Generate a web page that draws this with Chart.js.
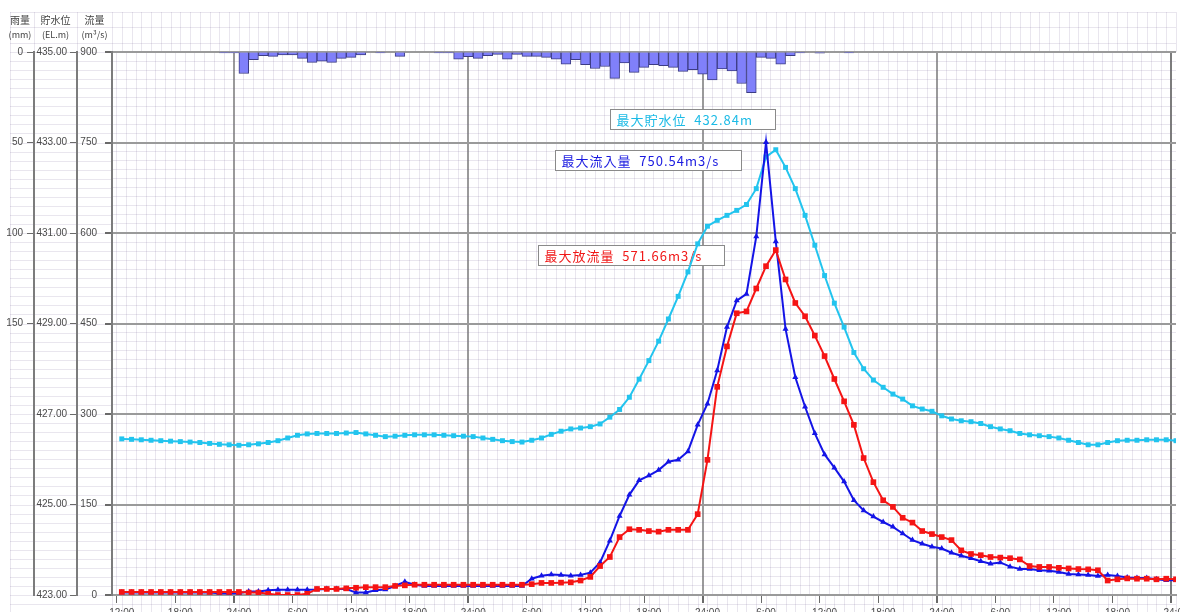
<!DOCTYPE html>
<html>
<head>
<meta charset="utf-8">
<script src="https://cdn.jsdelivr.net/npm/chart.js@4.4.1/dist/chart.umd.min.js"></script>
<style>
html, body { margin: 0; padding: 0; background: #fff; overflow: hidden; }
#wrap { position: relative; width: 1180px; height: 626px; }
</style>
</head>
<body>
<div id="wrap"><canvas id="chart"></canvas></div>
<script>
// hour index 0 = 12:00 on the first day, one value per hour
const clockLabels = ['12:00', '18:00', '24:00', '6:00'];
const axisHeads = [['雨量', '(mm)'], ['貯水位', '(EL.m)'], ['流量', '(m³/s)']];

// hourly rainfall (mm), bar i covers hour i .. i+1
const rainfall = [
  0, 0, 0, 0, 0, 0, 0, 0, 0, 0,
  0.5, 0.5, 11.9, 4.3, 2.0, 2.4, 1.6, 1.6, 3.5, 5.7,
  5.0, 5.7, 3.5, 3.0, 1.6, 0, 0.5, 0, 2.4, 0,
  0, 0, 0.5, 0.5, 3.9, 2.6, 3.5, 2.0, 1.3, 3.9,
  1.3, 2.4, 2.4, 3.0, 3.9, 6.7, 4.3, 7.0, 9.1, 8.0,
  14.6, 6.1, 11.3, 8.5, 7.0, 7.6, 8.5, 10.7, 9.8, 12.2,
  15.4, 9.4, 10.4, 17.4, 22.5, 3.0, 3.5, 6.7, 2.0, 0.5,
  0, 0.6, 0, 0, 0.5, 0, 0, 0, 0, 0,
  0, 0, 0, 0, 0, 0, 0, 0, 0, 0,
  0, 0, 0, 0, 0, 0, 0, 0, 0, 0,
  0, 0, 0, 0, 0, 0, 0, 0
];

// reservoir level (EL.m)
const level = [
  426.45, 426.44, 426.43, 426.42, 426.41, 426.40, 426.39, 426.38, 426.37, 426.35,
  426.33, 426.32, 426.31, 426.32, 426.34, 426.37, 426.41, 426.47, 426.53, 426.56,
  426.57, 426.57, 426.57, 426.58, 426.59, 426.56, 426.53, 426.50, 426.51, 426.53,
  426.54, 426.54, 426.54, 426.53, 426.52, 426.51, 426.50, 426.47, 426.44, 426.41,
  426.39, 426.38, 426.42, 426.47, 426.55, 426.62, 426.67, 426.69, 426.72, 426.78,
  426.93, 427.10, 427.37, 427.77, 428.18, 428.61, 429.10, 429.60, 430.14, 430.76,
  431.15, 431.28, 431.39, 431.50, 431.63, 431.98, 432.68, 432.84, 432.45, 431.98,
  431.39, 430.73, 430.06, 429.45, 428.92, 428.36, 428.00, 427.75, 427.59, 427.44,
  427.33, 427.18, 427.11, 427.06, 426.96, 426.89, 426.85, 426.83, 426.79, 426.72,
  426.67, 426.63, 426.57, 426.54, 426.52, 426.50, 426.47, 426.42, 426.37, 426.32,
  426.32, 426.37, 426.41, 426.42, 426.42, 426.43, 426.43, 426.43, 426.41
];

// inflow (m3/s)
const inflow = [
  4, 4, 4, 4, 4, 4, 4, 4, 4, 4,
  3, 2.5, 3, 6, 6, 8, 8.5, 8.5, 8.5, 8.5,
  9, 10, 10, 10, 4, 4, 8, 9, 15, 22,
  17, 15, 15, 15, 15, 15, 15, 15, 15, 15,
  15, 15, 27, 32, 34, 33, 32, 33, 37, 54,
  90, 131, 166, 190, 198, 207, 221, 224, 238, 282,
  317, 372, 444, 488, 499, 594, 750.54, 586, 441, 361,
  312, 268, 233, 211, 188, 157, 140, 130, 121, 113,
  102, 91, 85, 80, 77, 70, 65, 61, 56, 52,
  54, 47, 43, 43, 41, 40, 38, 35, 34, 33,
  31.5, 33, 31.5, 29, 28, 28, 26, 24.5, 24.5
];

// outflow (m3/s)
const outflow = [
  5, 5, 5, 5, 5, 5, 5, 5, 5, 5,
  5, 5, 5, 4, 4, 2, 0, 0, 0, 2,
  10, 10, 10, 11, 12, 13, 13, 13, 15, 16,
  17, 17, 17, 17, 17, 17, 17, 17, 17, 17,
  17, 17, 18, 20, 20, 20.5, 21, 24, 30, 48,
  63, 96, 109, 108, 106, 105, 108, 108, 108, 134,
  224, 345, 412, 467, 470, 508, 545, 571.66, 523, 484,
  462, 430, 396, 358, 321, 282, 227, 187, 157, 146,
  128, 120, 106, 101, 96, 91, 74, 68, 66, 63,
  62, 61, 59, 48, 46.5, 46.5, 45, 44, 43, 42.5,
  41, 24, 26, 27.5, 27, 27, 26, 27, 26
];

const hours = level.map((_, i) => i);

const MAJOR = '#9a9a9a';
const MINOR = 'rgba(120, 100, 150, 0.16)';
const EDGE = '#7c7c7c';
const TICK = '#6a6a6a';
const NONE = 'rgba(0,0,0,0)';

Chart.defaults.font.family = '"Liberation Sans", Arial, sans-serif';
Chart.defaults.font.size = 10;
Chart.defaults.color = '#4a4a4a';

// value of the tick a grid option is resolved for (undefined for the axis border)
const tv = c => (c && c.tick ? c.tick.value : undefined);

// graph paper outside the plot area and the axis headings
const paper = {
  id: 'paper',
  beforeDraw(chart) {
    const { ctx, chartArea: a, scales } = chart;
    const x = scales.x, yFlow = scales.yFlow;
    ctx.save();
    ctx.fillStyle = '#fff';
    ctx.fillRect(0, 0, chart.width, chart.height);
    ctx.strokeStyle = MINOR;
    ctx.lineWidth = 1;
    ctx.beginPath();
    for (let v = 0; v <= 900; v += 15) {
      const y = Math.round(yFlow.getPixelForValue(v)) + 0.5;
      ctx.moveTo(10, y);
      ctx.lineTo(a.left, y);
    }
    [12.5, 27.5, 43.5].forEach(y => { ctx.moveTo(10, y); ctx.lineTo(a.right, y); });
    const foot = Math.round(yFlow.getPixelForValue(-15)) + 0.5;
    ctx.moveTo(10, foot);
    ctx.lineTo(a.right, foot);
    ctx.stroke();
    ctx.beginPath();
    for (let h = -1; h <= 108; h++) {
      const px = Math.round(x.getPixelForValue(h)) + 0.5;
      ctx.moveTo(px, 12);
      ctx.lineTo(px, a.top);
      ctx.moveTo(px, a.bottom);
      ctx.lineTo(px, chart.height);
    }
    ctx.moveTo(10.5, 12);
    ctx.lineTo(10.5, chart.height);
    [34.5, 77.5].forEach(px => { ctx.moveTo(px, 12); ctx.lineTo(px, a.top); });
    ctx.stroke();

    ctx.fillStyle = '#444';
    ctx.textAlign = 'center';
    ctx.textBaseline = 'middle';
    const cols = [scales.yRain, scales.yLevel, scales.yFlow];
    axisHeads.forEach((head, i) => {
      const cx = (cols[i].left + cols[i].right) / 2 + (i === 0 ? 3 : 0);
      ctx.font = '10px "Noto Sans CJK JP", sans-serif';
      ctx.fillText(head[0], cx, 20);
      ctx.font = '9px "Noto Sans CJK JP", sans-serif';
      ctx.fillText(head[1], cx, 35);
    });
    ctx.restore();
  }
};

// boxed notes for the three peaks
const notes = [
  { values: level, axis: 'yLevel', label: '最大貯水位', unit: 'm', color: '#1cbbe6', dx: -166, dy: -41 },
  { values: inflow, axis: 'yFlow', label: '最大流入量', unit: 'm3/s', color: '#1a1ae0', dx: -211, dy: 8 },
  { values: outflow, axis: 'yFlow', label: '最大放流量', unit: 'm3/s', color: '#f01818', dx: -238, dy: -5 }
];

const peakNotes = {
  id: 'peakNotes',
  beforeDatasetsDraw(chart) {
    const { ctx, scales } = chart;
    ctx.save();
    ctx.font = '13px "Noto Sans CJK JP", sans-serif';
    ctx.letterSpacing = '1px';
    ctx.textBaseline = 'middle';
    ctx.textAlign = 'left';
    notes.forEach(n => {
      const peak = Math.max(...n.values);
      const i = n.values.indexOf(peak);
      const px = scales.x.getPixelForValue(hours[i]);
      const py = scales[n.axis].getPixelForValue(peak);
      const text = n.label + '  ' + peak.toFixed(2) + n.unit;
      const w = Math.round(ctx.measureText(text).width) + 28;
      const left = Math.round(px + n.dx) + 0.5;
      const top = Math.round(py + n.dy) + 0.5;
      ctx.fillStyle = '#fff';
      ctx.fillRect(left, top, w, 20);
      ctx.strokeStyle = '#8a8a8a';
      ctx.lineWidth = 1;
      ctx.strokeRect(left, top, w, 20);
      ctx.fillStyle = n.color;
      ctx.fillText(text, left + 6, top + 10.5);
    });
    ctx.restore();
  }
};

new Chart(document.getElementById('chart'), {
  type: 'line',
  data: {
    datasets: [
      {
        type: 'bar',
        label: '雨量',
        data: rainfall.map((v, i) => ({ x: hours[i] + 0.5, y: v })),
        yAxisID: 'yRain',
        backgroundColor: '#8080fa',
        borderColor: '#3c3c84',
        borderWidth: 1,
        barPercentage: 1,
        categoryPercentage: 1,
        order: 3
      },
      {
        label: '貯水位',
        data: hours.map((h, i) => ({ x: h, y: level[i] })),
        yAxisID: 'yLevel',
        borderColor: '#22c4ee',
        backgroundColor: '#22c4ee',
        borderWidth: 2,
        pointStyle: 'rect',
        pointRadius: 3.5,
        pointBorderWidth: 0,
        order: 2
      },
      {
        label: '流入量',
        data: hours.map((h, i) => ({ x: h, y: inflow[i] })),
        yAxisID: 'yFlow',
        borderColor: '#1414e6',
        backgroundColor: '#1414e6',
        borderWidth: 2,
        pointStyle: 'triangle',
        pointRadius: 3.5,
        pointBorderWidth: 0,
        order: 1
      },
      {
        label: '放流量',
        data: hours.map((h, i) => ({ x: h, y: outflow[i] })),
        yAxisID: 'yFlow',
        borderColor: '#f51414',
        backgroundColor: '#f51414',
        borderWidth: 2,
        pointStyle: 'rect',
        pointRadius: 4,
        pointBorderWidth: 0,
        order: 0
      }
    ]
  },
  options: {
    responsive: true,
    maintainAspectRatio: false,
    animation: false,
    events: [],
    layout: { padding: { top: 52, right: 4, left: 0, bottom: 0 }, autoPadding: false },
    plugins: { legend: { display: false }, tooltip: { enabled: false } },
    scales: {
      x: {
        type: 'linear',
        min: -1,
        max: 108,
        offset: false,
        afterFit: s => { s.height = 31; s.paddingLeft = 0; s.paddingRight = 0; },
        ticks: {
          stepSize: 1,
          autoSkip: false,
          maxRotation: 0,
          padding: 4,
          callback: v => (v >= 0 && v % 6 === 0) ? clockLabels[(v / 6) % 4] : ''
        },
        grid: {
          color: c => {
            const v = tv(c);
            if (v === undefined) return MAJOR;
            if (v === -1 || v === 108) return EDGE;
            return v % 24 === 12 ? MAJOR : MINOR;
          },
          lineWidth: c => {
            const v = tv(c);
            return (v === undefined || v === -1 || v % 24 === 12) ? 2 : 1;
          },
          tickLength: 8,
          tickColor: c => {
            const v = tv(c);
            return (v !== undefined && v >= 0 && v % 6 === 0) ? TICK : NONE;
          }
        },
        border: { color: MAJOR, width: 2 }
      },
      yFlow: {
        position: 'left',
        weight: 0,
        z: -1,
        min: 0,
        max: 900,
        afterFit: s => { s.width = 35; },
        ticks: {
          stepSize: 15,
          autoSkip: false,
          padding: 8,
          callback: v => v % 150 === 0 ? v : ''
        },
        grid: {
          color: c => {
            const v = tv(c);
            return (v === undefined || v % 150 === 0) ? MAJOR : MINOR;
          },
          lineWidth: c => {
            const v = tv(c);
            return (v === undefined || v % 150 === 0) ? 2 : 1;
          },
          tickLength: 7,
          tickColor: c => {
            const v = tv(c);
            return (v !== undefined && v % 150 === 0) ? TICK : NONE;
          }
        },
        border: { color: EDGE, width: 2 }
      },
      yLevel: {
        position: 'left',
        weight: 1,
        min: 423,
        max: 435,
        afterFit: s => { s.width = 43; },
        ticks: {
          stepSize: 2,
          autoSkip: false,
          padding: 3,
          callback: v => v.toFixed(2)
        },
        grid: { drawOnChartArea: false, tickLength: 7, color: TICK },
        border: { color: EDGE, width: 2 }
      },
      yRain: {
        position: 'left',
        weight: 2,
        reverse: true,
        min: 0,
        max: 300,
        afterFit: s => { s.width = 34; },
        ticks: {
          stepSize: 50,
          autoSkip: false,
          padding: 4,
          callback: v => v <= 150 ? v : ''
        },
        grid: {
          drawOnChartArea: false,
          tickLength: 7,
          color: TICK,
          tickColor: c => {
            const v = tv(c);
            return (v !== undefined && v <= 150) ? TICK : NONE;
          }
        },
        border: { color: EDGE, width: 2 }
      }
    }
  },
  plugins: [paper, peakNotes]
});
</script>
</body>
</html>
